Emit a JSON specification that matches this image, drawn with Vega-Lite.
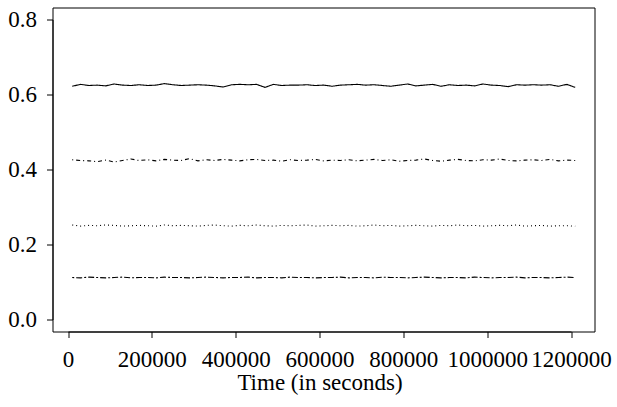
{
  "$schema": "https://vega.github.io/schema/vega-lite/v6.json",
  "width": 542,
  "height": 324,
  "autosize": {"type": "none"},
  "padding": {"left": 52.5, "top": 7.5, "right": 22.5, "bottom": 75.5},
  "background": "white",
  "config": {
    "view": {"stroke": "black", "strokeWidth": 1},
    "font": "Liberation Serif",
    "axis": {
      "labelFont": "Liberation Serif",
      "titleFont": "Liberation Serif",
      "labelFontSize": 23,
      "titleFontSize": 23,
      "titleFontWeight": "normal",
      "labelColor": "black",
      "titleColor": "black",
      "domainColor": "black",
      "tickColor": "black",
      "tickSize": 6,
      "grid": false
    }
  },
  "data": {
    "values": [
      {"t":10000,"a":0.622,"b":0.426,"c":0.252,"d":0.112},
      {"t":30000,"a":0.627,"b":0.424,"c":0.249,"d":0.111},
      {"t":50000,"a":0.624,"b":0.423,"c":0.251,"d":0.113},
      {"t":70000,"a":0.625,"b":0.421,"c":0.250,"d":0.112},
      {"t":90000,"a":0.623,"b":0.425,"c":0.252,"d":0.111},
      {"t":110000,"a":0.628,"b":0.420,"c":0.251,"d":0.112},
      {"t":130000,"a":0.625,"b":0.424,"c":0.249,"d":0.113},
      {"t":150000,"a":0.624,"b":0.428,"c":0.250,"d":0.111},
      {"t":170000,"a":0.626,"b":0.424,"c":0.251,"d":0.112},
      {"t":190000,"a":0.624,"b":0.426,"c":0.250,"d":0.112},
      {"t":210000,"a":0.625,"b":0.423,"c":0.249,"d":0.111},
      {"t":230000,"a":0.629,"b":0.427,"c":0.252,"d":0.113},
      {"t":250000,"a":0.626,"b":0.425,"c":0.250,"d":0.112},
      {"t":270000,"a":0.624,"b":0.424,"c":0.251,"d":0.112},
      {"t":290000,"a":0.625,"b":0.429,"c":0.250,"d":0.111},
      {"t":310000,"a":0.626,"b":0.423,"c":0.249,"d":0.112},
      {"t":330000,"a":0.625,"b":0.426,"c":0.251,"d":0.113},
      {"t":350000,"a":0.623,"b":0.424,"c":0.252,"d":0.112},
      {"t":370000,"a":0.620,"b":0.427,"c":0.250,"d":0.111},
      {"t":390000,"a":0.626,"b":0.425,"c":0.249,"d":0.112},
      {"t":410000,"a":0.627,"b":0.423,"c":0.251,"d":0.112},
      {"t":430000,"a":0.626,"b":0.426,"c":0.250,"d":0.113},
      {"t":450000,"a":0.627,"b":0.427,"c":0.252,"d":0.111},
      {"t":470000,"a":0.619,"b":0.424,"c":0.250,"d":0.112},
      {"t":490000,"a":0.627,"b":0.425,"c":0.249,"d":0.112},
      {"t":510000,"a":0.624,"b":0.422,"c":0.251,"d":0.111},
      {"t":530000,"a":0.625,"b":0.426,"c":0.250,"d":0.113},
      {"t":550000,"a":0.625,"b":0.424,"c":0.251,"d":0.112},
      {"t":570000,"a":0.626,"b":0.425,"c":0.252,"d":0.112},
      {"t":590000,"a":0.624,"b":0.427,"c":0.249,"d":0.111},
      {"t":610000,"a":0.625,"b":0.423,"c":0.250,"d":0.112},
      {"t":630000,"a":0.622,"b":0.425,"c":0.251,"d":0.112},
      {"t":650000,"a":0.625,"b":0.424,"c":0.250,"d":0.113},
      {"t":670000,"a":0.626,"b":0.426,"c":0.251,"d":0.111},
      {"t":690000,"a":0.627,"b":0.423,"c":0.249,"d":0.112},
      {"t":710000,"a":0.625,"b":0.425,"c":0.250,"d":0.112},
      {"t":730000,"a":0.626,"b":0.427,"c":0.252,"d":0.111},
      {"t":750000,"a":0.624,"b":0.424,"c":0.250,"d":0.113},
      {"t":770000,"a":0.622,"b":0.426,"c":0.251,"d":0.112},
      {"t":790000,"a":0.625,"b":0.422,"c":0.249,"d":0.112},
      {"t":810000,"a":0.628,"b":0.424,"c":0.250,"d":0.111},
      {"t":830000,"a":0.623,"b":0.425,"c":0.251,"d":0.112},
      {"t":850000,"a":0.625,"b":0.428,"c":0.250,"d":0.113},
      {"t":870000,"a":0.627,"b":0.424,"c":0.249,"d":0.112},
      {"t":890000,"a":0.622,"b":0.422,"c":0.251,"d":0.111},
      {"t":910000,"a":0.626,"b":0.425,"c":0.250,"d":0.112},
      {"t":930000,"a":0.624,"b":0.427,"c":0.252,"d":0.112},
      {"t":950000,"a":0.625,"b":0.424,"c":0.250,"d":0.111},
      {"t":970000,"a":0.623,"b":0.423,"c":0.251,"d":0.113},
      {"t":990000,"a":0.628,"b":0.426,"c":0.249,"d":0.112},
      {"t":1010000,"a":0.625,"b":0.425,"c":0.250,"d":0.111},
      {"t":1030000,"a":0.624,"b":0.428,"c":0.251,"d":0.112},
      {"t":1050000,"a":0.621,"b":0.424,"c":0.250,"d":0.112},
      {"t":1070000,"a":0.626,"b":0.423,"c":0.252,"d":0.113},
      {"t":1090000,"a":0.625,"b":0.425,"c":0.249,"d":0.111},
      {"t":1110000,"a":0.626,"b":0.426,"c":0.250,"d":0.112},
      {"t":1130000,"a":0.625,"b":0.424,"c":0.251,"d":0.112},
      {"t":1150000,"a":0.626,"b":0.427,"c":0.249,"d":0.111},
      {"t":1170000,"a":0.622,"b":0.423,"c":0.250,"d":0.112},
      {"t":1190000,"a":0.627,"b":0.425,"c":0.250,"d":0.113},
      {"t":1210000,"a":0.619,"b":0.424,"c":0.249,"d":0.112}
    ]
  },
  "transform": [{"fold": ["a", "b", "c", "d"], "as": ["series", "value"]}],
  "mark": {"type": "line", "color": "black", "strokeWidth": 1.1, "clip": false},
  "encoding": {
    "x": {
      "field": "t",
      "type": "quantitative",
      "scale": {"domain": [0, 1200000], "range": [15.5, 518.5], "nice": false, "zero": false},
      "axis": {
        "values": [0, 200000, 400000, 600000, 800000, 1000000, 1200000],
        "format": "d",
        "title": "Time (in seconds)",
        "labelPadding": 11,
        "titlePadding": 0,
        "labelFlush": false,
        "labelOverlap": false
      }
    },
    "y": {
      "field": "value",
      "type": "quantitative",
      "scale": {"domain": [0, 0.8], "range": [312, 12], "nice": false, "zero": false},
      "axis": {
        "values": [0, 0.2, 0.4, 0.6, 0.8],
        "format": ".1f",
        "title": null,
        "labelPadding": 10,
        "labelFlush": false,
        "labelOverlap": false
      }
    },
    "strokeDash": {
      "field": "series",
      "type": "nominal",
      "scale": {"domain": ["a", "b", "c", "d"], "range": [[1, 0], [1, 3, 4, 3], [1, 3], [2, 2, 6, 2]]},
      "legend": null
    }
  }
}
